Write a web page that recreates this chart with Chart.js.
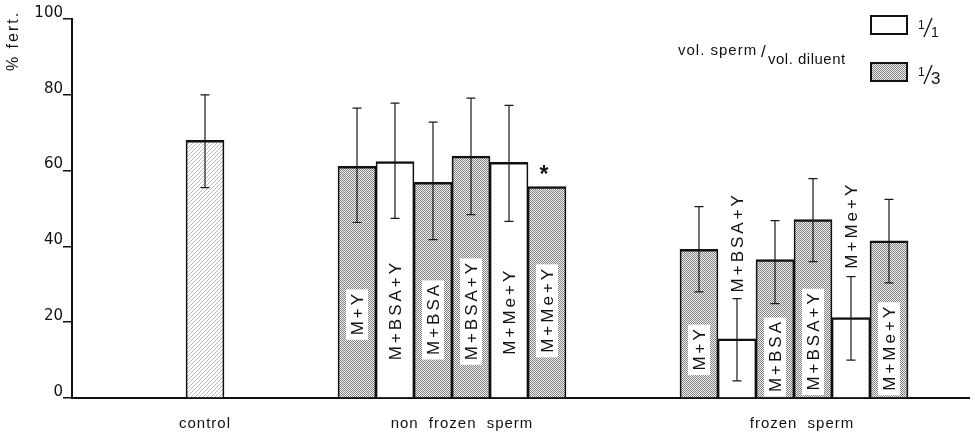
<!DOCTYPE html>
<html><head><meta charset="utf-8">
<script src="https://cdn.jsdelivr.net/npm/chart.js@4.4.0/dist/chart.umd.min.js"></script>
<style>html,body{margin:0;padding:0;background:#fff}#wrap{width:975px;height:435px;position:relative}</style>
</head><body><div id="wrap"><canvas id="c"></canvas></div>
<script>
// ---------- data ----------
const groups = ['control', 'non frozen sperm', 'frozen sperm'];
const treatments = ['M+Y', 'M+BSA+Y', 'M+BSA', 'M+BSA+Y', 'M+Me+Y', 'M+Me+Y'];
const dilutions = ['1/3', '1/1', '1/3', '1/3', '1/1', '1/3'];
const controlMean = [68];
const controlErrLow = [55.5];
const controlErrHigh = [80];
const nonFrozenMean = [61.1, 62.4, 56.9, 63.8, 62.2, 55.8];
const nonFrozenErrLow = [46.3, 47.4, 41.8, 48.4, 46.6, null];
const nonFrozenErrHigh = [76.5, 77.8, 72.8, 79.1, 77.2, null];
const nonFrozenMarks = ['', '', '', '', '', '*'];
const frozenMean = [39.2, 15.6, 36.5, 47.1, 21.2, 41.5];
const frozenErrLow = [28.0, 4.5, 24.9, 36.0, 10.0, 30.4];
const frozenErrHigh = [50.5, 26.2, 46.8, 57.9, 32.0, 52.4];
const yTicks = [0, 20, 40, 60, 80, 100];
const yTitle = '% fert.';
const legendLabels = [['1', '1'], ['1', '3']];
const legendTitle = ['vol. sperm', 'vol. diluent'];

// ---------- layout (not data) ----------
const gapBefore = [3, 3, 3];
const gapAfter = 1;
const labelCenterNF = [22.0, 22.8, 20.6, 22.8, 22.5, 23.0];
const labelCenterFZ = [12.7, 40.7, 10.8, 14.8, 45.2, 13.0];
const groupLabelShift = [0, 10, 8];

// ---------- patterns ----------
function makePattern(w, h, draw) {
  const pc = document.createElement('canvas');
  pc.width = w; pc.height = h;
  const g = pc.getContext('2d');
  draw(g);
  return document.createElement('canvas').getContext('2d').createPattern(pc, 'repeat');
}
const stipple = makePattern(2, 2, g => {
  g.fillStyle = '#f2f2f2'; g.fillRect(0, 0, 2, 2);
  g.fillStyle = '#808080'; g.fillRect(0, 0, 1, 1); g.fillRect(1, 1, 1, 1);
});
const hatch = makePattern(4, 4, g => {
  g.fillStyle = '#ffffff'; g.fillRect(0, 0, 4, 4);
  g.strokeStyle = '#a8a8a8'; g.lineWidth = 0.8;
  g.beginPath(); g.moveTo(0, 4); g.lineTo(4, 0); g.moveTo(-1, 1); g.lineTo(1, -1); g.moveTo(3, 5); g.lineTo(5, 3); g.stroke();
});

// ---------- slots ----------
const slots = [];
function gap(n) { for (let i = 0; i < n; i++) slots.push(null); }
gap(gapBefore[0]);
slots.push({ g: 0, v: controlMean[0], lo: controlErrLow[0], hi: controlErrHigh[0], kind: 'control', text: '', mark: '' });
gap(gapBefore[1]);
nonFrozenMean.forEach((v, i) => slots.push({ g: 1, v, lo: nonFrozenErrLow[i], hi: nonFrozenErrHigh[i], kind: dilutions[i], text: treatments[i], mark: nonFrozenMarks[i], at: labelCenterNF[i] }));
gap(gapBefore[2]);
frozenMean.forEach((v, i) => slots.push({ g: 2, v, lo: frozenErrLow[i], hi: frozenErrHigh[i], kind: dilutions[i], text: treatments[i], mark: '', at: labelCenterFZ[i] }));
gap(gapAfter);

const fillFor = s => !s ? 'rgba(0,0,0,0)' : s.kind === 'control' ? hatch : s.kind === '1/1' ? '#ffffff' : stipple;

const FONT = '"Liberation Sans", Arial, sans-serif';

const overlay = {
  id: 'overlay',
  afterDatasetsDraw(chart) {
    const ctx = chart.ctx, x = chart.scales.x, y = chart.scales.y, ca = chart.chartArea;
    const meta = chart.getDatasetMeta(0);
    ctx.save();
    // extend baseline
    ctx.strokeStyle = '#111'; ctx.lineWidth = 2;
    ctx.beginPath(); ctx.moveTo(ca.right - 1, ca.bottom); ctx.lineTo(970, ca.bottom); ctx.stroke();

    // error bars
    ctx.lineWidth = 1.2; ctx.strokeStyle = '#1a1a1a';
    slots.forEach((s, i) => {
      if (!s || s.lo == null) return;
      const cx = meta.data[i].x;
      const yl = y.getPixelForValue(s.lo), yh = y.getPixelForValue(s.hi);
      ctx.beginPath();
      ctx.moveTo(cx, yl); ctx.lineTo(cx, yh);
      ctx.moveTo(cx - 4.5, yl); ctx.lineTo(cx + 4.5, yl);
      ctx.moveTo(cx - 4.5, yh); ctx.lineTo(cx + 4.5, yh);
      ctx.stroke();
    });

    // rotated treatment labels
    ctx.font = '17px ' + FONT;
    ctx.letterSpacing = '3px';
    ctx.textAlign = 'center'; ctx.textBaseline = 'middle';
    slots.forEach((s, i) => {
      if (!s || !s.text) return;
      const cx = meta.data[i].x, cy = y.getPixelForValue(s.at);
      const w = ctx.measureText(s.text).width;
      ctx.save();
      ctx.translate(cx, cy); ctx.rotate(-Math.PI / 2);
      if (s.kind === '1/3') {
        ctx.fillStyle = '#ffffff';
        ctx.fillRect(-w / 2 - 3, -11, w + 6, 22);
      }
      ctx.fillStyle = '#111';
      ctx.fillText(s.text, 1.5, 1);
      ctx.restore();
    });
    ctx.letterSpacing = '0px';

    // significance marks
    ctx.font = 'bold 23px ' + FONT; ctx.textBaseline = 'alphabetic'; ctx.textAlign = 'center'; ctx.fillStyle = '#111';
    slots.forEach((s, i) => {
      if (!s || !s.mark) return;
      ctx.fillText(s.mark, meta.data[i].x - 3, y.getPixelForValue(s.v) - 5);
    });

    // group labels
    ctx.font = '15px ' + FONT; ctx.letterSpacing = '1px'; ctx.wordSpacing = '5px';
    ctx.textAlign = 'center'; ctx.textBaseline = 'middle';
    groups.forEach((name, g) => {
      const idx = slots.map((s, i) => (s && s.g === g) ? i : -1).filter(i => i >= 0);
      const cx = (meta.data[idx[0]].x + meta.data[idx[idx.length - 1]].x) / 2 + groupLabelShift[g];
      ctx.fillText(name, cx, 424);
    });
    ctx.wordSpacing = '0px';

    // y title
    ctx.save();
    ctx.font = '16px ' + FONT; ctx.letterSpacing = '2px';
    ctx.translate(14, 41); ctx.rotate(-Math.PI / 2);
    ctx.textAlign = 'center'; ctx.textBaseline = 'middle';
    ctx.fillText(yTitle, 0, 0);
    ctx.restore();

    // legend
    ctx.letterSpacing = '0px';
    const boxes = [{ y: 16, fill: '#ffffff' }, { y: 63, fill: stipple }];
    boxes.forEach((b, k) => {
      ctx.fillStyle = b.fill; ctx.fillRect(871, b.y, 36, 18);
      ctx.strokeStyle = '#111'; ctx.lineWidth = 2; ctx.strokeRect(871, b.y, 36, 18);
      const [num, den] = legendLabels[k];
      const by = b.y;
      ctx.fillStyle = '#111'; ctx.textAlign = 'left'; ctx.textBaseline = 'alphabetic';
      ctx.font = '12px ' + FONT; ctx.fillText(num, 918, by + 13);
      ctx.lineWidth = 1.3; ctx.beginPath(); ctx.moveTo(924, by + 21); ctx.lineTo(932, by + 2); ctx.stroke();
      ctx.font = (k === 0 ? '14px ' : '17px ') + FONT; ctx.fillText(den, 931, by + 21);
    });
    ctx.font = '15px ' + FONT; ctx.letterSpacing = '1px'; ctx.textAlign = 'left';
    ctx.fillText(legendTitle[0], 678, 55);
    ctx.font = '17px ' + FONT; ctx.letterSpacing = '0px';
    ctx.fillText('/', 761, 57);
    ctx.font = '15px ' + FONT; ctx.letterSpacing = '0.5px';
    ctx.fillText(legendTitle[1], 768, 64);
    ctx.restore();
  }
};

new Chart(document.getElementById('c'), {
  type: 'bar',
  data: {
    labels: slots.map((s, i) => 's' + i),
    datasets: [{
      data: slots.map(s => s ? s.v : null),
      backgroundColor: slots.map(fillFor),
      borderColor: '#111',
      borderWidth: { top: 2.5, left: 1.7, right: 1.7, bottom: 0 },
      borderSkipped: 'start',
      barPercentage: 1,
      categoryPercentage: 1
    }]
  },
  options: {
    responsive: true, maintainAspectRatio: false, animation: false,
    devicePixelRatio: 1,
    layout: { padding: { top: 19, right: 29, left: 0, bottom: 0 } },
    plugins: { legend: { display: false }, tooltip: { enabled: false } },
    scales: {
      x: {
        ticks: { display: false },
        grid: { display: false },
        border: { display: true, color: '#111', width: 2 },
        afterFit(scale) { scale.height = 37; }
      },
      y: {
        min: 0, max: 100,
        afterBuildTicks(scale) { scale.ticks = yTicks.map(v => ({ value: v })); },
        ticks: { color: '#111', font: { family: '"DejaVu Sans", sans-serif', size: 15 }, padding: 0, labelOffset: -6 },
        grid: { display: true, drawOnChartArea: false, drawTicks: true, tickLength: 9, color: '#111', lineWidth: 1.5 },
        border: { display: true, color: '#111', width: 2 },
        afterFit(scale) { scale.width = 72; }
      }
    }
  },
  plugins: [overlay]
});
</script>
</body></html>
